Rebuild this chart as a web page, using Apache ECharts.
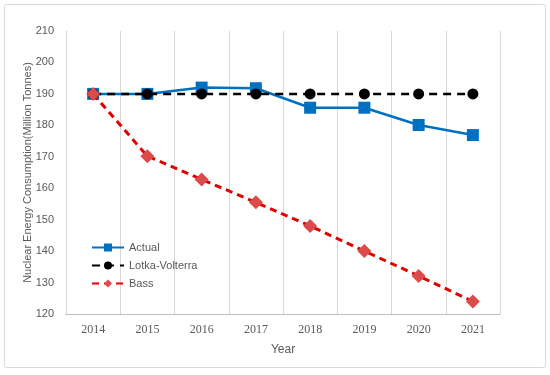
<!DOCTYPE html>
<html><head><meta charset="utf-8">
<script src="https://cdn.jsdelivr.net/npm/echarts@6/dist/echarts.min.js"></script>
<style>html,body{margin:0;padding:0;background:#fff}#c{width:550px;height:375px}</style>
</head><body><div id="c"></div>
<script>
var years = ['2014','2015','2016','2017','2018','2019','2020','2021'];
var actual = [190, 190, 192, 191.8, 185.6, 185.6, 180.1, 176.9];
var lotka = [190, 190, 190, 190, 190, 190, 190, 190];
var bass = [190, 170.2, 162.8, 155.5, 148, 140, 132.1, 124];
var yTicks = {min:120, max:210, interval:10};

var chart = echarts.init(document.getElementById('c'));
chart.setOption({
  animation:false,
  backgroundColor:'#fff',
  graphic:[{type:'rect',shape:{x:4.5,y:4.5,width:541,height:363,r:2},style:{fill:'none',stroke:'#d9d9d9',lineWidth:1},silent:true,z:-1}],
  grid:{left:66,right:50,top:31,bottom:61},
  legend:{
    orient:'vertical', left:86, top:237, itemGap:7, itemWidth:32, itemHeight:10,
    textStyle:{fontFamily:'Liberation Sans',fontSize:11,color:'#595959'},
    data:['Actual','Lotka-Volterra','Bass']
  },
  xAxis:{
    type:'category', data:years, boundaryGap:true,
    name:'Year', nameLocation:'middle', nameGap:30,
    nameTextStyle:{fontFamily:'Liberation Sans',fontSize:12,color:'#595959'},
    axisLine:{lineStyle:{color:'#bfbfbf'}},
    axisTick:{show:false},
    axisLabel:{fontFamily:'Liberation Serif',fontSize:12,color:'#595959',margin:10},
    splitLine:{show:true,lineStyle:{color:'#d9d9d9'}}
  },
  yAxis:[{
    type:'value', min:yTicks.min, max:yTicks.max, interval:yTicks.interval,
    name:'Nuclear Energy Consumption(Million Tonnes)', nameLocation:'middle', nameGap:33,
    nameMoveOverlap:false,
    nameTextStyle:{fontFamily:'Liberation Sans',fontSize:11,color:'#595959'},
    axisLine:{show:true,lineStyle:{color:'#d9d9d9'}},
    axisTick:{show:false},
    axisLabel:{fontFamily:'Liberation Sans',fontSize:11,color:'#595959',margin:12},
    splitLine:{show:false}
  },{
    type:'value', position:'right', min:yTicks.min, max:yTicks.max, interval:yTicks.interval,
    axisLine:{show:true,lineStyle:{color:'#d9d9d9'}},
    axisTick:{show:false}, axisLabel:{show:false}, splitLine:{show:false}
  }],
  series:[
    {name:'Actual',type:'line',data:actual,symbol:'rect',symbolSize:12,
     lineStyle:{color:'#0070c0',width:2.5},itemStyle:{color:'#0070c0'},z:2},
    {name:'Lotka-Volterra',type:'line',data:lotka,symbol:'circle',symbolSize:11,
     lineStyle:{color:'#000',width:2.5,type:[8,6]},itemStyle:{color:'#000'},z:3},
    {name:'Bass',type:'line',data:bass,symbol:'diamond',symbolSize:14,
     lineStyle:{color:'#e00000',width:3,type:[7,5]},itemStyle:{color:'#dc4b4b'},z:4}
  ]
});
</script></body></html>
